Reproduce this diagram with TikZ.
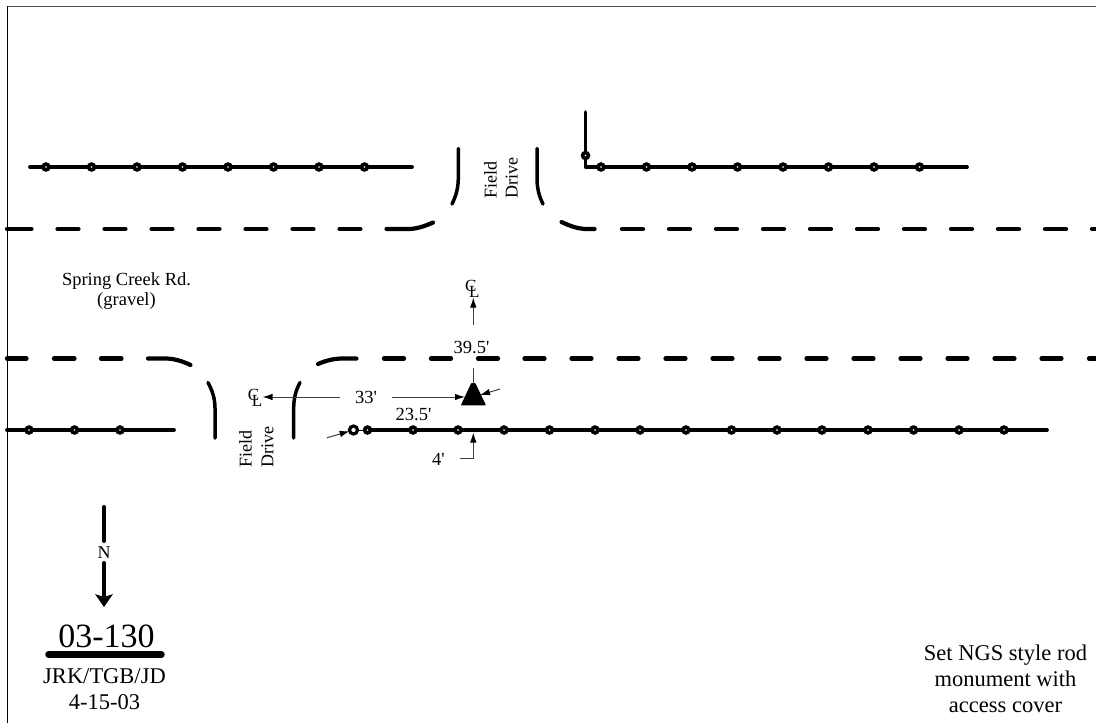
\documentclass[tikz,border=0pt]{standalone}
\usepackage{fontspec}
\setmainfont{Liberation Serif}
\usetikzlibrary{arrows.meta}
\newcommand{\ft}{\textquotesingle}
\tikzset{
  road/.style={line width=3.7pt,line cap=round,line join=round,black},
  curb/.style={line width=3.5pt,line cap=round,black},
  dashseg/.style={line width=4.2pt,line cap=round,black},
  post/.style={circle,draw=black,fill=white,line width=3.6pt,minimum size=5.8pt,inner sep=0pt,outer sep=0pt},
  bigpost/.style={circle,draw=black,fill=white,line width=3.2pt,minimum size=8pt,inner sep=0pt,outer sep=0pt},
  leader/.style={line width=1pt,black!75},
  leadarrow/.style={leader,-{Latex[length=10pt,width=6.5pt,black]}},
  lab/.style={inner sep=0pt,font=\fontsize{18.5}{20}\selectfont,anchor=base},
  note/.style={inner sep=0pt,font=\fontsize{22.5}{24}\selectfont,anchor=base},
  cl/.style={inner sep=0pt,font=\fontsize{17}{17}\selectfont},
  vlab/.style={inner sep=0pt,font=\fontsize{18}{20}\selectfont,rotate=90,anchor=base west},
}
\begin{document}
\begin{tikzpicture}[x=1pt,y=-1pt]
\useasboundingbox (0,0) rectangle (1096,723);
% frame
\draw[line width=1.3pt,black!70] (6.6,6.5) -- (1096,6.5);
\draw[line width=1.1pt,black] (7.2,6) -- (7.2,723);
% upper fences
\draw[road] (30,167) -- (412,167);
\foreach \x in {46,91.5,137,182.5,228,273.5,319,364.5} \node[post] at (\x,167) {};
\draw[road] (585.5,112) -- (585.5,167) -- (967,167);
\node[post] (cornerpost) at (585.5,155.5) {};
\foreach \x in {601,646.5,692,737.5,783,828.5,874,919.5} \node[post] at (\x,167) {};
% upper road edge
\draw[dashseg] (7,229) -- (31.5,229);
\foreach \x in {57.5,104.5,151.5,198.5,245.5,292.5,339.5} \draw[dashseg] (\x,229) -- (\x+21,229);
\draw[dashseg] (386.5,229) -- (408,229) .. controls (417,229) and (425,226) .. (433,222.5);
\draw[dashseg] (561.5,222) .. controls (570,226) and (578,229) .. (587,229) -- (594.5,229);
\foreach \x in {622,669,716,763,810,857,904,951,998,1045,1092} \draw[dashseg] (\x,229) -- (\x+21,229);
% lower road edge
\draw[dashseg] (7,358.5) -- (26.5,358.5);
\foreach \x in {54,101} \draw[dashseg] (\x,358.5) -- (\x+20.5,358.5);
\draw[dashseg] (148,358.5) -- (165,358.5) .. controls (174,358.5) and (182,361) .. (190.5,365);
\draw[dashseg] (318,364) .. controls (326,360.5) and (334,358.5) .. (343,358.5) -- (356.5,358.5);
\foreach \x in {384,431,478,524.5,571.5,618.5,665.5,712.5,759.5,806.5,853.5,900.5,947.5,994.5,1041.5,1089} \draw[dashseg] (\x,358.5) -- (\x+20,358.5);
% upper drive
\draw[curb] (458.3,148.5) -- (458.3,178) .. controls (458.3,188) and (456,196) .. (452,204);
\draw[curb] (537,148.5) -- (537,178) .. controls (537,188) and (539,196) .. (543,204);
% lower drive
\draw[curb] (208,382.5) .. controls (212,390) and (215,398) .. (215,408) -- (215,438);
\draw[curb] (300,382.5) .. controls (296,390) and (293.7,398) .. (293.7,408) -- (293.7,438);
% lower fences
\draw[road] (7,430) -- (174,430);
\foreach \x in {29,74.5,120} \node[post] at (\x,430) {};
\draw[road] (367,430) -- (1047,430);
\node[post] (firstpost) at (367.5,430) {};
\foreach \x in {413,458,504,549.5,595,640,686,731.5,777,822,868,913.5,959,1004} \node[post] at (\x,430) {};
\node[bigpost] (bigrod) at (353.5,430) {};
\draw[line width=1pt] (bigrod) -- (firstpost);
% monument
\fill[black,rounded corners=.6pt] (471.3,383) -- (475.3,383) -- (486,405.3) -- (460.8,405.3) -- cycle;
\coordinate (triTop) at (473.3,383.5);
\coordinate (triLeft) at (465,397);
\coordinate (triRight) at (480,395);
% centreline marks
\node[cl] (clLc) at (253.5,395) {C};
\node[cl] (clLl) at (257,400.5) {L};
\node[cl] (clTc) at (470.8,285.5) {C};
\node[cl] (clTl) at (474.3,291.5) {L};
% dimension labels
\node[lab] (d33) at (366,403.5) {33\ft};
\node[lab] (d395) at (471.5,353.5) {39.5\ft};
\node[lab] (d235) at (413.5,420) {23.5\ft};
\node[lab] (d4) at (438.5,465) {4\ft};
% leaders
\coordinate (clLtip) at (262.5,397);
\coordinate (clTtip) at (473.3,297.5);
\draw[leadarrow] (340,397) -- (clLtip);
\draw[leadarrow] (392,397) -- (triLeft);
\draw[leadarrow] (473.3,325) -- (clTtip);
\draw[leader] (473.3,368) -- (triTop);
\draw[leadarrow] (500,389) -- (triRight);
\draw[leadarrow] (327,437.8) -- (bigrod);
\coordinate (fenceHit) at (473.3,432.5);
\draw[leadarrow] (459.5,458) -| (fenceHit);
% road and drive labels
\node[lab] at (126.5,285) {Spring Creek Rd.};
\node[lab] at (126.5,305) {(gravel)};
\node[vlab] at (496.7,199) {Field};
\node[vlab] at (517.7,199) {Drive};
\node[vlab] at (251.7,468) {Field};
\node[vlab] at (273.3,468) {Drive};
% north arrow
\node[inner sep=0pt,font=\fontsize{18}{18}\selectfont,anchor=base] (north) at (104,558) {N};
\draw[line width=4pt,line cap=round] (104,507) -- (104,541);
\draw[line width=4pt,line cap=round] (104,563) -- (104,596);
\fill[black] (104,607) -- (95,594) -- (104,597) -- (113,594) -- cycle;
% title block
\node[inner sep=0pt,font=\fontsize{34}{36}\selectfont,anchor=base] at (106.5,647) {03-130};
\draw[line width=6.5pt,line cap=round] (48.5,654.5) -- (161.5,654.5);
\node[note] at (104.5,683) {JRK/TGB/JD};
\node[note] at (104.5,709) {4-15-03};
% note
\node[note] at (1005.5,660) {Set NGS style rod};
\node[note] at (1005.5,686.5) {monument with};
\node[note] at (1005.5,712) {access cover};
\end{tikzpicture}
\end{document}
